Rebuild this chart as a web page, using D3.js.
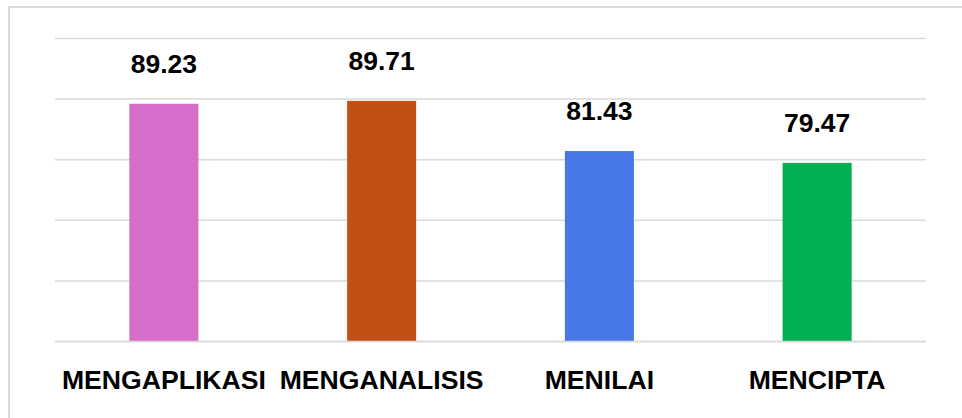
<!DOCTYPE html>
<html>
<head>
<meta charset="utf-8">
<script src="https://cdn.jsdelivr.net/npm/d3@7"></script>
<style>
	body { margin: 0; background: #fff; }
	text { font-family: "Liberation Sans", Arial, sans-serif; font-weight: bold; fill: #000; }
</style>
</head>
<body>
<svg id="chart" width="962" height="418"></svg>
<script>
// data
var categories = ['MENGAPLIKASI', 'MENGANALISIS', 'MENILAI', 'MENCIPTA'];
var values = [89.23, 89.71, 81.43, 79.47];
var colors = ['#D76DCB', '#C15017', '#4878E8', '#00AF50'];
var gridTicks = [50, 60, 70, 80, 90, 100];

var svg = d3.select('#chart');

// outer frame
svg.append('rect')
	.attr('x', 9).attr('y', 7)
	.attr('width', 970).attr('height', 430)
	.attr('fill', 'none').attr('stroke', '#d9d9d9').attr('stroke-width', 2);

var x = d3.scaleBand().domain(categories).range([55, 926]).paddingInner(0.683).paddingOuter(0.3415);
var y = d3.scaleLinear().domain([50, 100]).range([341.5, 38.5]);

// gridlines
svg.append('g').selectAll('line').data(gridTicks).enter().append('line')
	.attr('x1', 55).attr('x2', 926)
	.attr('y1', function(d) { return y(d); })
	.attr('y2', function(d) { return y(d); })
	.attr('stroke', '#d9d9d9').attr('stroke-width', 1.5);

// bars
svg.append('g').selectAll('rect').data(values).enter().append('rect')
	.attr('x', function(d, i) { return x(categories[i]); })
	.attr('y', function(d) { return y(d); })
	.attr('width', x.bandwidth())
	.attr('height', function(d) { return y(50) - y(d); })
	.attr('fill', function(d, i) { return colors[i]; });

// baseline over bars
svg.append('line')
	.attr('x1', 55).attr('x2', 926)
	.attr('y1', y(50)).attr('y2', y(50))
	.attr('stroke', '#d9d9d9').attr('stroke-width', 1.5);

// value labels
svg.append('g').selectAll('text').data(values).enter().append('text')
	.attr('x', function(d, i) { return x(categories[i]) + x.bandwidth() / 2; })
	.attr('y', function(d) { return y(d) - 31; })
	.attr('text-anchor', 'middle')
	.style('font-size', '26.5px')
	.text(function(d) { return d.toFixed(2); });

// category labels
var xAxis = d3.axisBottom(x).tickSize(0).tickPadding(0);
var ax = svg.append('g').attr('transform', 'translate(0,' + 389 + ')').call(xAxis);
ax.select('.domain').remove();
ax.selectAll('text')
	.attr('dy', 0)
	.style('font-size', '26.6px');
</script>
</body>
</html>
